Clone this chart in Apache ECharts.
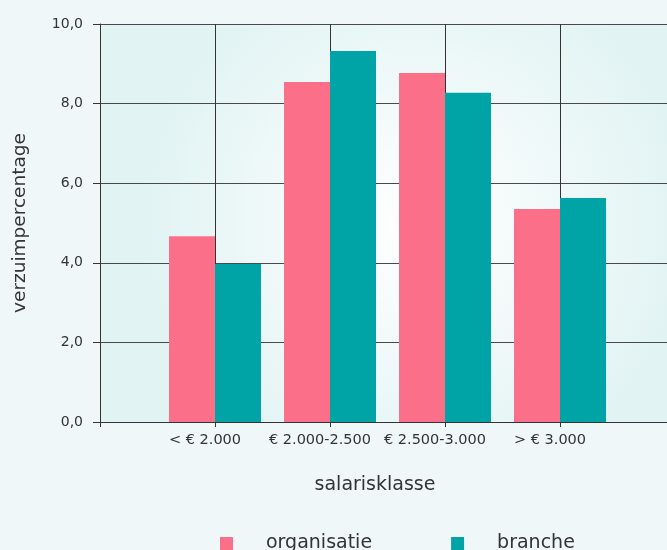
<!DOCTYPE html>
<html><head><meta charset="utf-8">
<script src="https://cdn.jsdelivr.net/npm/echarts@6/dist/echarts.min.js"></script>
<style>html,body{margin:0;padding:0;background:#eff7f9;}#c{width:667px;height:550px;}</style>
</head><body><div id="c"></div>
<script>
var categories = ['', '< € 2.000', '€ 2.000-2.500', '€ 2.500-3.000', '> € 3.000', ''];
var organisatie = [null, 4.67, 8.54, 8.77, 5.35, null];
var branche = [null, 3.97, 9.32, 8.27, 5.63, null];
var yTicks = [0, 2, 4, 6, 8, 10];

var chart = echarts.init(document.getElementById('c'));
var font = '"DejaVu Sans", sans-serif';
chart.setOption({
  backgroundColor: '#eff7f9',
  animation: false,
  grid: {
    left: 100, top: 24, right: -8, bottom: 128, show: true, borderWidth: 0,
    containLabel: false, outerBoundsMode: 'none',
    backgroundColor: new echarts.graphic.RadialGradient(0.55, 0.5, 0.7, [
      {offset: 0, color: '#ffffff'}, {offset: 1, color: '#e1f3f3'}
    ])
  },
  legend: {
    bottom: -8, left: 215,
    itemWidth: 13, itemHeight: 13, itemGap: 79,
    icon: 'rect',
    textStyle: {fontFamily: font, fontSize: 19, color: '#333', padding: [0, 0, 0, 28]},
    data: ['organisatie', 'branche']
  },
  xAxis: {
    type: 'category', data: categories, boundaryGap: false,
    name: 'salarisklasse', nameLocation: 'middle', nameGap: 54,
    nameTextStyle: {fontFamily: font, fontSize: 19, color: '#333', padding: [0, 25, 0, 0]},
    axisLine: {lineStyle: {color: '#333', width: 1}},
    axisTick: {show: true, length: 5, lineStyle: {color: '#333'}},
    axisLabel: {fontFamily: font, fontSize: 14.5, color: '#333', margin: 11, interval: 0,
      padding: [0, 20, 0, 0]},
    splitLine: {show: true, lineStyle: {color: '#333', width: 1}}
  },
  yAxis: {
    type: 'value', min: 0, max: 10, interval: 2,
    name: 'verzuimpercentage', nameLocation: 'middle', nameGap: 70, nameRotate: 90,
    nameTextStyle: {fontFamily: font, fontSize: 18.5, color: '#333'},
    axisLine: {show: true, lineStyle: {color: '#333', width: 1}},
    axisTick: {show: true, length: 7, lineStyle: {color: '#333'}},
    axisLabel: {fontFamily: font, fontSize: 14, color: '#333', margin: 17,
      formatter: function (v) { return yTicks.indexOf(v) >= 0 ? v.toFixed(1).replace('.', ',') : ''; }},
    splitLine: {show: true, lineStyle: {color: '#4a4a4a', width: 1}}
  },
  series: [
    {name: 'organisatie', type: 'bar', data: organisatie, barWidth: 46, barGap: '0%',
      itemStyle: {color: '#fb7088'}},
    {name: 'branche', type: 'bar', data: branche, barWidth: 46, barGap: '0%',
      itemStyle: {color: '#00a3a6'}}
  ]
});
</script></body></html>
